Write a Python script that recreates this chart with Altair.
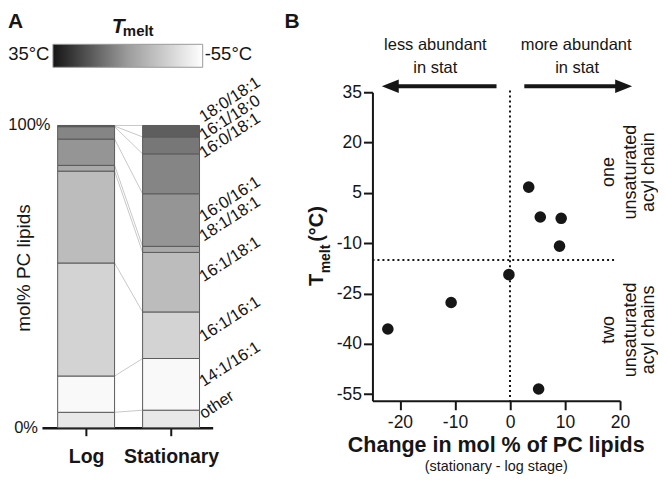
import altair as alt
import pandas as pd

# ---------------- data ----------------
lipids = ["18:0/18:1", "16:1/18:0", "16:0/18:1", "16:0/16:1", "18:1/18:1",
          "16:1/18:1", "16:1/16:1", "14:1/16:1", "other"]
stages = ["Log", "Stationary"]
log_pct = [0.2, 0.2, 4.1, 8.7, 1.9, 30.4, 37.4, 12.0, 5.1]
stat_pct = [3.8, 5.6, 13.2, 17.4, 2.0, 19.7, 15.4, 17.1, 5.8]

# panel B: one point per PC species (without "other")
change_mol = [3.4, 5.5, 9.3, 9.0, -0.2, -10.7, -22.2, 5.2]
tmelt_c = [6.7, -2.2, -2.6, -10.9, -19.4, -27.7, -35.6, -53.5]
x_ticks = [-20, -15, -10, -5, 0, 5, 10, 15, 20]
y_ticks = [35, 20, 5, -10, -25, -40, -55]
legend_ends = ["35°C", "-55°C"]
divider_tmelt = -15

# ---------------- styles ----------------
FONT = "Liberation Sans"
INK = "#161616"
greys = ["#5e5e5e", "#777777", "#858585", "#959595", "#a9a9a9",
         "#bcbcbc", "#d3d3d3", "#f9f9f9", "#e8e8e8"]
label_nudge = [2.0, 0.7, 4.2, -1.5, 1.6, -0.9, -3.1, -1.8, -1.0]
BAR_HALF = 0.335
ONE = pd.DataFrame({"_": [0]})


def txt(text, x, y, size, bold=False, italic=False, align="left",
        baseline="alphabetic", angle=None, color=INK):
    kw = dict(text=text, font=FONT, fontSize=size, align=align,
              baseline=baseline, color=color)
    if bold:
        kw["fontWeight"] = "bold"
    if italic:
        kw["fontStyle"] = "italic"
    if angle is not None:
        kw["angle"] = angle
    return alt.Chart(ONE).mark_text(**kw).encode(x=alt.value(x), y=alt.value(y))


# ---------------- panel A ----------------
rows = []
for si, (stage, vals) in enumerate(zip(stages, [log_pct, stat_pct])):
    bottom = 0.0
    for lip, v in reversed(list(zip(lipids, vals))):
        rows.append({"stage": stage, "pos": si + 1, "lipid": lip,
                     "y0": bottom, "y1": bottom + v})
        bottom += v
bars_df = pd.DataFrame(rows)
bars_df["x0"] = bars_df["pos"] - BAR_HALF
bars_df["x1"] = bars_df["pos"] + BAR_HALF

log_top = bars_df[bars_df.stage == stages[0]].set_index("lipid")["y1"]
stat_top = bars_df[bars_df.stage == stages[1]].set_index("lipid")["y1"]
conn_df = pd.DataFrame({"lipid": lipids,
                        "ya": log_top[lipids].values,
                        "yb": stat_top[lipids].values})
conn_df["xa"] = 1 + BAR_HALF
conn_df["xb"] = 2 - BAR_HALF

stat_rows = bars_df[bars_df.stage == stages[1]].set_index("lipid").loc[lipids]
lab_df = pd.DataFrame({"lipid": lipids,
                       "ym": ((stat_rows["y0"] + stat_rows["y1"]) / 2).values
                       + pd.Series(label_nudge).values})
lab_df["x"] = 2 + BAR_HALF

xA = alt.Scale(domain=[0.48, 2.49], nice=False, zero=False)
yA = alt.Scale(domain=[0, 111], nice=False, zero=False)
axA = alt.Axis(values=[1, 2],
               labelExpr=f"datum.value == 1 ? '{stages[0]}' : '{stages[1]}'",
               title=None, grid=False, domainColor=INK, domainWidth=2.5,
               tickColor=INK, tickWidth=2, tickSize=8, labelFont=FONT,
               labelFontSize=19.5, labelFontWeight="bold", labelColor=INK,
               labelPadding=12, labelFlush=False, labelOverlap=False)

conn = alt.Chart(conn_df).mark_rule(color="#c8c8c8", strokeWidth=1).encode(
    x=alt.X("xa:Q", scale=xA, axis=axA), x2="xb:Q",
    y=alt.Y("ya:Q", scale=yA, axis=None), y2="yb:Q")

bars = alt.Chart(bars_df).mark_rect(stroke="#5a5a5a", strokeWidth=1).encode(
    x=alt.X("x0:Q", scale=xA, axis=axA), x2="x1:Q",
    y=alt.Y("y0:Q", scale=yA, axis=None), y2="y1:Q",
    color=alt.Color("lipid:N", scale=alt.Scale(domain=lipids, range=greys),
                    legend=None))

seglabels = alt.Chart(lab_df).mark_text(
    font=FONT, fontSize=16.5, align="left", baseline="alphabetic",
    angle=327, dx=5, color=INK).encode(
    x=alt.X("x:Q", scale=xA), y=alt.Y("ym:Q", scale=yA), text="lipid:N")

pct100 = alt.Chart(ONE).mark_text(text="100%", font=FONT, fontSize=16.5,
                                  align="right", baseline="middle", color=INK).encode(
    x=alt.value(8.5), y=alt.datum(100, scale=yA))
pct0 = alt.Chart(ONE).mark_text(text="0%", font=FONT, fontSize=16.5,
                                align="right", baseline="middle", color=INK).encode(
    x=alt.value(-4), y=alt.datum(0, scale=yA))

grad = alt.Chart(ONE).mark_rect(
    fill={"gradient": "linear", "x1": 0, "x2": 1, "y1": 0, "y2": 0,
          "stops": [{"offset": 0, "color": "#151515"},
                    {"offset": 0.5, "color": "#9c9c9c"},
                    {"offset": 1, "color": "#ffffff"}]},
    stroke="#9a9a9a", strokeWidth=1).encode(
    x=alt.value(11), x2=alt.value(161), y=alt.value(-48), y2=alt.value(-25))

panelA = alt.layer(
    conn, bars, seglabels, pct100, pct0, grad,
    txt(legend_ends[0], 7.5, -32, 18.5, align="right"),
    txt(legend_ends[1], 163, -32, 18.5),
    txt("T", 70, -59, 21, bold=True, italic=True),
    txt("melt", 81, -56, 15, bold=True),
    txt("A", -34, -81, 21, bold=True, baseline="top"),
    txt("mol% PC lipids", -18, 176, 19, align="center", baseline="middle", angle=270),
).properties(width=171, height=336)

# ---------------- panel B ----------------
pts_df = pd.DataFrame({"lipid": lipids[:-1], "change": change_mol, "tmelt": tmelt_c})
xB = alt.Scale(domain=[-25, 20], nice=False, zero=False)
yB = alt.Scale(domain=[-57, 35], nice=False, zero=False)
ax_common = dict(title=None, grid=False, domainColor=INK, domainWidth=2,
                 tickColor=INK, tickWidth=2, tickSize=9, labelFont=FONT,
                 labelFontSize=17.5, labelColor=INK, labelFlush=False,
                 labelOverlap=False, labelExpr="'' + datum.value")
axBx = alt.Axis(values=x_ticks, labelPadding=4, **ax_common)
axBy = alt.Axis(values=y_ticks, labelPadding=2, **ax_common)

points = alt.Chart(pts_df).mark_circle(size=135, color=INK, opacity=1).encode(
    x=alt.X("change:Q", scale=xB, axis=axBx),
    y=alt.Y("tmelt:Q", scale=yB, axis=axBy))

hline = alt.Chart(pd.DataFrame({"y": [divider_tmelt], "x": [-25], "x2": [19.3]})).mark_rule(
    color=INK, strokeWidth=2, strokeDash=[2, 3]).encode(
    x=alt.X("x:Q", scale=xB), x2="x2:Q", y=alt.Y("y:Q", scale=yB))
vline = alt.Chart(pd.DataFrame({"x": [0], "y": [35.5], "y2": [-57]})).mark_rule(
    color=INK, strokeWidth=2, strokeDash=[2, 3]).encode(
    x=alt.X("x:Q", scale=xB), y=alt.Y("y:Q", scale=yB), y2="y2:Q")

arrow_tips = [-23.3, 22.2]
arrow_tails = [-2.45, 2.6]
shafts = alt.Chart(pd.DataFrame({"a": [arrow_tips[0] + 1.5, arrow_tips[1] - 1.5],
                                 "b": arrow_tails})).mark_rule(
    color=INK, strokeWidth=4).encode(
    x=alt.X("a:Q", scale=xB), x2="b:Q", y=alt.value(-6))
head_l = alt.Chart(pd.DataFrame({"x": [arrow_tips[0]]})).mark_point(
    shape="M0,0L2,-0.8L2,0.8Z", size=289, filled=True, color=INK, opacity=1,
    strokeWidth=0).encode(x=alt.X("x:Q", scale=xB), y=alt.value(-6))
head_r = alt.Chart(pd.DataFrame({"x": [arrow_tips[1]]})).mark_point(
    shape="M0,0L-2,-0.8L-2,0.8Z", size=289, filled=True, color=INK, opacity=1,
    strokeWidth=0).encode(x=alt.X("x:Q", scale=xB), y=alt.value(-6))

side_kw = dict(align="center", baseline="middle", angle=270)
panelB = alt.layer(
    hline, vline, points, shafts, head_l, head_r,
    txt("B", -88, -81, 21, bold=True, baseline="top"),
    txt("less abundant", 63, -42, 16.5, align="center"),
    txt("in stat", 63, -19.3, 16.5, align="center"),
    txt("more abundant", 204, -42, 16.5, align="center"),
    txt("in stat", 205, -19.3, 16.5, align="center"),
    txt("one", 236.5, 80, 18, **side_kw),
    txt("unsaturated", 258.5, 80, 18, **side_kw),
    txt("acyl chain", 277, 80, 18, **side_kw),
    txt("two", 236.5, 238, 18, **side_kw),
    txt("unsaturated", 258.5, 238, 18, **side_kw),
    txt("acyl chains", 277, 238, 18, **side_kw),
    txt("T", -56, 188, 20, bold=True, **side_kw),
    txt("melt", -47, 167, 14, bold=True, **side_kw),
    txt("(°C)", -56, 132, 20, bold=True, **side_kw),
    txt("Change in mol % of PC lipids", 124, 360, 21.5, bold=True, align="center"),
    txt("(stationary - log stage)", 124, 379.5, 14.4, align="center"),
).properties(width=248, height=309)

chart = alt.hconcat(panelA, panelB, spacing=160, bounds="flush").properties(
    padding={"top": 3, "left": 0, "right": 0, "bottom": 0}).configure_view(stroke=None)

chart.save("out.html", embed_options={"renderer": "svg", "actions": False})
